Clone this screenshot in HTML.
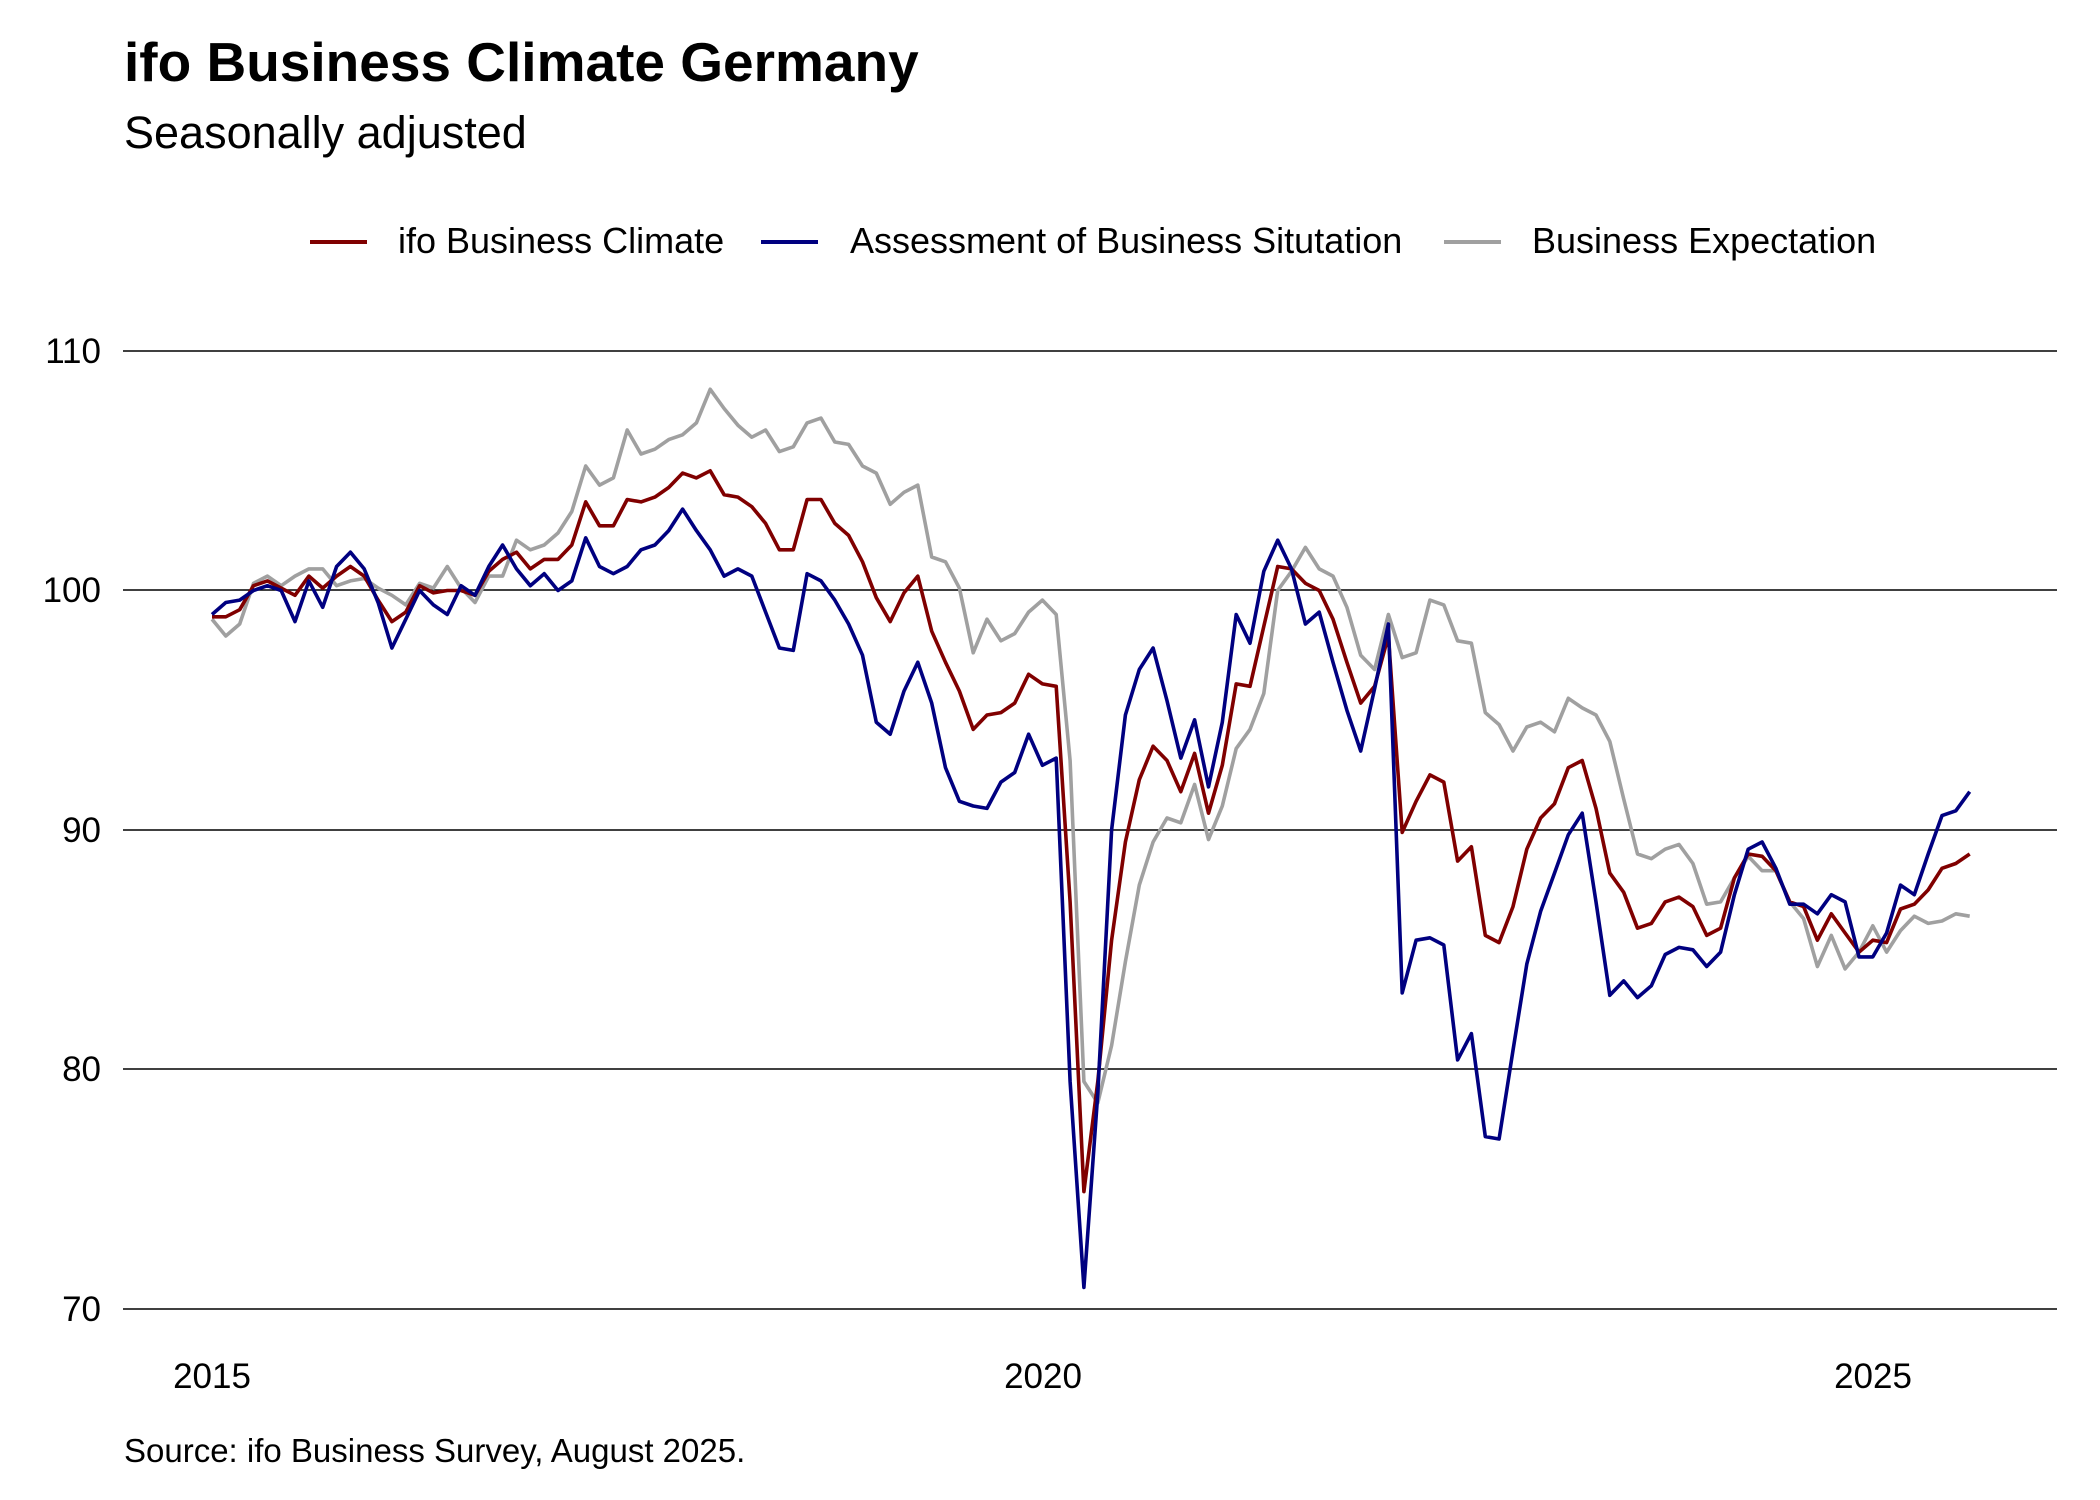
<!DOCTYPE html>
<html><head><meta charset="utf-8"><style>
html,body{margin:0;padding:0;background:#fff;}
svg{display:block;font-family:"Liberation Sans",Arial,sans-serif;}
</style></head><body>
<svg id="c" width="2100" height="1500" viewBox="0 0 2100 1500" xmlns="http://www.w3.org/2000/svg">
<rect width="2100" height="1500" fill="#fff"/>
<text x="124" y="81" font-size="55" font-weight="bold" fill="#000">ifo Business Climate Germany</text>
<text x="124" y="148" font-size="45" fill="#000">Seasonally adjusted</text>
<line x1="310" y1="242" x2="367" y2="242" stroke="#800000" stroke-width="4"/>
<text x="398" y="253" font-size="36" fill="#000">ifo Business Climate</text>
<line x1="761" y1="242" x2="818" y2="242" stroke="#000080" stroke-width="4"/>
<text x="850" y="253" font-size="36" fill="#000">Assessment of Business Situtation</text>
<line x1="1444" y1="242" x2="1501" y2="242" stroke="#a0a0a0" stroke-width="4"/>
<text x="1532" y="253" font-size="36" fill="#000">Business Expectation</text>
<g stroke="#000" stroke-width="1.6">
<line x1="123" y1="351" x2="2057" y2="351"/>
<line x1="123" y1="590" x2="2057" y2="590"/>
<line x1="123" y1="830" x2="2057" y2="830"/>
<line x1="123" y1="1069" x2="2057" y2="1069"/>
<line x1="123" y1="1309" x2="2057" y2="1309"/>
</g>
<g font-size="35" fill="#000" text-anchor="end">
<text x="101" y="363">110</text>
<text x="101" y="602">100</text>
<text x="101" y="842">90</text>
<text x="101" y="1081">80</text>
<text x="101" y="1321">70</text>
</g>
<g font-size="35" fill="#000" text-anchor="middle">
<text x="212" y="1388">2015</text>
<text x="1043" y="1388">2020</text>
<text x="1873" y="1388">2025</text>
</g>
<text x="124" y="1462" font-size="33" fill="#000">Source: ifo Business Survey, August 2025.</text>
<g id="series" fill="none" stroke-width="3.6" stroke-linejoin="round"></g>
</svg>
<script>
var clim=[98.9,98.9,99.2,100.2,100.4,100.1,99.8,100.6,100.1,100.6,101.0,100.6,
99.6,98.7,99.1,100.2,99.9,100.0,100.0,99.8,100.8,101.3,101.6,100.9,
101.3,101.3,101.9,103.7,102.7,102.7,103.8,103.7,103.9,104.3,104.9,104.7,
105.0,104.0,103.9,103.5,102.8,101.7,101.7,103.8,103.8,102.8,102.3,101.2,
99.7,98.7,99.9,100.6,98.3,97.0,95.8,94.2,94.8,94.9,95.3,96.5,
96.1,96.0,87.0,74.9,79.5,85.4,89.5,92.1,93.5,92.9,91.6,93.2,
90.7,92.7,96.1,96.0,98.5,101.0,100.9,100.3,100.0,98.8,97.0,95.3,
96.0,98.1,89.9,91.2,92.3,92.0,88.7,89.3,85.6,85.3,86.8,89.2,
90.5,91.1,92.6,92.9,90.9,88.2,87.4,85.9,86.1,87.0,87.2,86.8,
85.6,85.9,88.0,89.0,88.9,88.3,87.0,86.8,85.4,86.5,85.7,84.9,
85.4,85.3,86.7,86.9,87.5,88.4,88.6,89.0];
var sit=[99.0,99.5,99.6,100.0,100.2,100.0,98.7,100.4,99.3,101.0,101.6,100.9,
99.5,97.6,98.8,100.0,99.4,99.0,100.2,99.8,101.0,101.9,100.9,100.2,
100.7,100.0,100.4,102.2,101.0,100.7,101.0,101.7,101.9,102.5,103.4,102.5,
101.7,100.6,100.9,100.6,99.1,97.6,97.5,100.7,100.4,99.6,98.6,97.3,
94.5,94.0,95.8,97.0,95.3,92.6,91.2,91.0,90.9,92.0,92.4,94.0,
92.7,93.0,79.5,70.9,79.0,90.0,94.8,96.7,97.6,95.4,93.0,94.6,
91.8,94.5,99.0,97.8,100.8,102.1,100.9,98.6,99.1,97.0,95.0,93.3,
95.9,98.6,83.2,85.4,85.5,85.2,80.4,81.5,77.2,77.1,80.8,84.4,
86.6,88.2,89.8,90.7,87.0,83.1,83.7,83.0,83.5,84.8,85.1,85.0,
84.3,84.9,87.3,89.2,89.5,88.4,86.9,86.9,86.5,87.3,87.0,84.7,
84.7,85.7,87.7,87.3,89.0,90.6,90.8,91.6];
var exp=[98.8,98.1,98.6,100.3,100.6,100.2,100.6,100.9,100.9,100.2,100.4,100.5,
100.1,99.8,99.4,100.3,100.1,101.0,100.1,99.5,100.6,100.6,102.1,101.7,
101.9,102.4,103.3,105.2,104.4,104.7,106.7,105.7,105.9,106.3,106.5,107.0,
108.4,107.6,106.9,106.4,106.7,105.8,106.0,107.0,107.2,106.2,106.1,105.2,
104.9,103.6,104.1,104.4,101.4,101.2,100.1,97.4,98.8,97.9,98.2,99.1,
99.6,99.0,92.9,79.5,78.6,81.0,84.5,87.7,89.5,90.5,90.3,91.9,
89.6,91.0,93.4,94.2,95.7,100.0,100.8,101.8,100.9,100.6,99.3,97.3,
96.7,99.0,97.2,97.4,99.6,99.4,97.9,97.8,94.9,94.4,93.3,94.3,
94.5,94.1,95.5,95.1,94.8,93.7,91.3,89.0,88.8,89.2,89.4,88.6,
86.9,87.0,88.0,88.9,88.3,88.3,87.0,86.3,84.3,85.6,84.2,84.9,
86.0,84.9,85.8,86.4,86.1,86.2,86.5,86.4];
function path(a){var d="";for(var i=0;i<a.length;i++){var x=212+i*13.84,y=351+(110-a[i])*23.95;d+=(i?"L":"M")+x.toFixed(1)+","+y.toFixed(1);}return d;}
var g=document.getElementById("series"),ns="http://www.w3.org/2000/svg";
[[exp,"#a0a0a0"],[clim,"#800000"],[sit,"#000080"]].forEach(function(s){var p=document.createElementNS(ns,"path");p.setAttribute("d",path(s[0]));p.setAttribute("stroke",s[1]);g.appendChild(p);});
</script>
</body></html>
